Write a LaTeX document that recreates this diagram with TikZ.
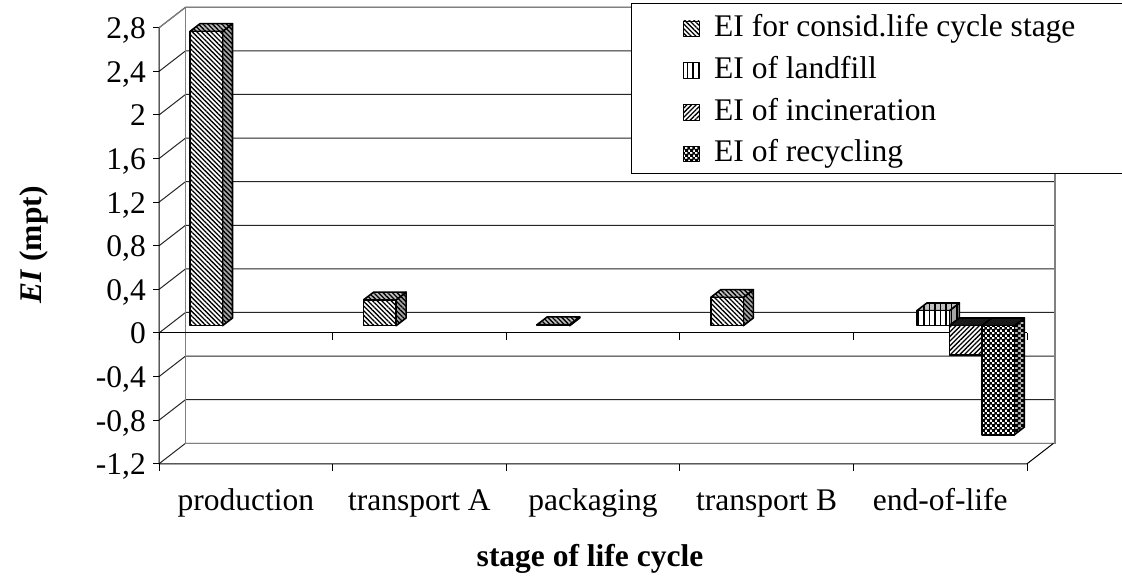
\documentclass[tikz,border=0pt]{standalone}
\usepackage{fontspec}
\setmainfont{Liberation Serif}
\usetikzlibrary{patterns,patterns.meta}
\tikzdeclarepattern{name=chk,type=uncolored,bottom left={(0pt,0pt)},top right={(5.4pt,5.4pt)},tile size={(5.4pt,5.4pt)},code={\fill (0pt,0pt) rectangle (3.3pt,3.3pt); \fill (2.7pt,2.7pt) rectangle (6pt,6pt);}}
\tikzset{
 gridln/.style={line width=1pt, black!85},
 wallln/.style={line width=1.2pt, gray},
 axln/.style={line width=1pt, black},
 bout/.style={draw=black, line width=1.6pt, line join=round},
 nwl/.style={pattern={Lines[angle=-45,distance=3.3pt,line width=1.3pt]}},
 nel/.style={pattern={Lines[angle=45,distance=3.3pt,line width=1.3pt]}},
 vl/.style={pattern={Lines[angle=90,distance=5.5pt,line width=1.3pt]}},
 ck/.style={pattern=chk},
 sAfront/.style={bout, preaction={fill=white}, nwl},
 sAtop/.style={bout, preaction={fill=gray!50}, nwl},
 sAside/.style={bout, preaction={fill=gray!70}, nwl},
 sBfront/.style={bout, preaction={fill=white}, vl},
 sBtop/.style={bout, preaction={fill=gray!50}, vl},
 sBside/.style={bout, preaction={fill=gray!70}, vl},
 sCfront/.style={bout, preaction={fill=white}, nel},
 sCtop/.style={bout, fill=black!90},
 sCside/.style={bout, preaction={fill=gray!70}, nel},
 sDfront/.style={bout, preaction={fill=white}, ck},
 sDtop/.style={bout, fill=black!90},
 sDside/.style={bout, preaction={fill=gray!55}, ck},
 tick/.style={anchor=base east, inner sep=0pt},
 cat/.style={anchor=base, inner sep=0pt},
 leg/.style={anchor=base west, inner sep=0pt},
 legbox/.style={draw=black, line width=0.8pt},
}
\newcommand{\mybar}[5]{%
 \pgfmathsetmacro{\xl}{#1}%
 \pgfmathsetmacro{\xr}{#1+32.5}%
 \pgfmathsetmacro{\yb}{325.7}%
 \pgfmathsetmacro{\yt}{325.7-109*(#2)}%
 \pgfmathsetmacro{\ytop}{min(\yb,\yt)}%
 \path[#5] (\xr,\yb) -- (\xr,\yt) -- ({\xr+10},{\yt-7.7}) -- ({\xr+10},{\yb-7.7}) -- cycle;
 \path[#4] (\xl,\ytop) -- (\xr,\ytop) -- ({\xr+10},{\ytop-7.7}) -- ({\xl+10},{\ytop-7.7}) -- cycle;
 \path[#3] (\xl,\yb) rectangle (\xr,\yt);
}
\begin{document}
\begin{tikzpicture}[x=1pt,y=-1pt,font=\fontsize{31.5}{37}\selectfont]
\useasboundingbox (0,0) rectangle (1122,577);
\clip (0,0) rectangle (1122,577);
\fill[white] (0,0) rectangle (1122,577);
% back wall gridlines and left wall diagonals
\foreach \v/\lab in {-1.2/{-1,2},-0.8/{-0,8},-0.4/{-0,4},0/0,0.4/{0,4},0.8/{0,8},1.2/{1,2},1.6/{1,6},2/2,2.4/{2,4},2.8/{2,8}}{
  \pgfmathsetmacro{\yy}{333-109*\v}
  \draw[gridln] (159,\yy) -- (185.5,\yy-20.5) -- (1055,\yy-20.5);
  \draw[axln] (153,\yy) -- (159,\yy);
  \node[tick] (t\v) at (146,\yy+11) {\lab};
}
\pgfmathsetmacro{\ytopf}{333-109*2.8}
\pgfmathsetmacro{\ybotf}{333+109*1.2}
% walls
\draw[wallln] (159,\ytopf) -- (185.5,\ytopf-20.5) -- (1055,\ytopf-20.5);
\draw[wallln] (185.5,\ytopf-20.5) -- (185.5,\ybotf-20.5) -- (1055,\ybotf-20.5) -- (1055,\ytopf-20.5);
% front axes
\draw[axln] (159,\ytopf) -- (159,\ybotf) -- (1027,\ybotf) -- (1053.5,\ybotf-20.5);
\draw[axln] (159,333) -- (1027,333);
\foreach \k in {0,...,5}{
  \pgfmathsetmacro{\xx}{159+173.6*\k}
  \draw[axln] (\xx,333) -- (\xx,340);
  \draw[axln] (\xx,\ybotf) -- (\xx,\ybotf+7);
}
% bars
\mybar{190}{2.70}{sAfront}{sAtop}{sAside}
\mybar{363.6}{0.237}{sAfront}{sAtop}{sAside}
\mybar{537.2}{0.01}{sAfront}{sAtop}{sAside}
\mybar{710.8}{0.26}{sAfront}{sAtop}{sAside}
\mybar{916.9}{0.138}{sBfront}{sBtop}{sBside}
\mybar{949.4}{-0.27}{sCfront}{sCtop}{sCside}
\mybar{981.9}{-1.0}{sDfront}{sDtop}{sDside}
% category labels
\foreach \k/\c in {0/production,1/transport A,2/packaging,3/transport B,4/end-of-life}{
  \node[cat] (c\k) at ({159+173.6*(\k+0.5)},510) {\c};
}
% axis titles
\node[cat] (xlab) at (590,566.5) {\bfseries stage of life cycle};
\node[cat, rotate=90] (ylab) at (41.5,245) {\bfseries\itshape EI\/\upshape\ (mpt)};
% legend
\draw[legbox, fill=white] (631.5,3.3) rectangle (1135,173);
\foreach \i/\st/\t in {0/sAfront/{EI for consid.life cycle stage},1/sBfront/{EI of landfill},2/sCfront/{EI of incineration},3/sDfront/{EI of recycling}}{
  \pgfmathsetmacro{\bl}{36.5+41.8*\i}
  \path[\st, line width=0.9pt] (683.3,\bl) rectangle (699,\bl-15.5);
  \node[leg] (l\i) at (714,\bl) {\t};
}
\end{tikzpicture}
\end{document}
